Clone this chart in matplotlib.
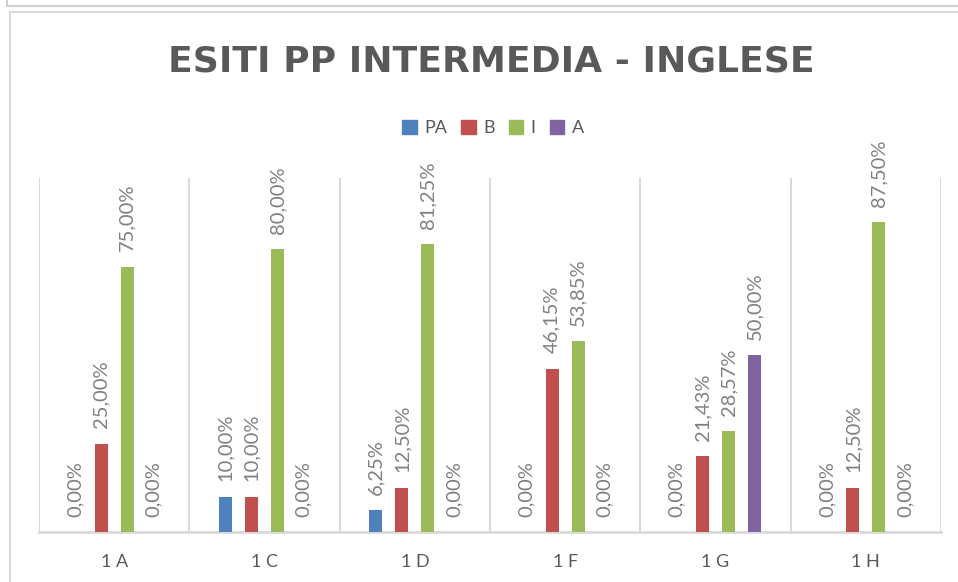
import numpy as np
import matplotlib.pyplot as plt
from matplotlib.patches import Rectangle, Patch

classi = ['1A', '1C', '1D', '1F', '1G', '1H']
serie = ['PA', 'B', 'I', 'A']
PA = [0, 10, 6.25, 0, 0, 0]
B = [25, 10, 12.5, 46.15, 21.43, 12.5]
I = [75, 80, 81.25, 53.85, 28.57, 87.5]
A = [0, 0, 0, 0, 50, 0]
colori = ['#4F81BD', '#C0504D', '#9BBB59', '#8064A2']

plt.rcParams['font.family'] = ['Lato', 'DejaVu Sans']

fig = plt.figure(figsize=(9.58, 5.82), dpi=100)
W, H = 958, 582

# cornici di sfondo (come nello screenshot)
fig.patches.append(Rectangle((7/W, 1 - 6/H), 1, 8/H, transform=fig.transFigure,
                             fc='white', ec='#d0d0d0', lw=1.5, zorder=-2))
fig.patches.append(Rectangle((10/W, -0.1), 1, 1 - 12/H + 0.1, transform=fig.transFigure,
                             fc='white', ec='#d9d9d9', lw=1.5, zorder=-2))

ax = fig.add_axes([39/W, 1 - 532/H, (941 - 39)/W, (532 - 178)/H])
ax.set_facecolor('none')

x = np.arange(len(classi))
w = 0.087
off = 0.1733
for k, vals in enumerate([PA, B, I, A]):
    pos = x + (k - 1.5) * off
    ax.bar(pos, vals, width=w, color=colori[k], zorder=3)
    for p, v in zip(pos, vals):
        lab = f'{v:.2f}'.replace('.', ',') + '%'
        ax.annotate(lab, (p, v), xytext=(0, 11), textcoords='offset points',
                    rotation=90, ha='center', va='bottom', fontsize=14.5,
                    color='#808080')

ax.set_xlim(-0.5, 5.5)
ax.set_ylim(0, 100)
ax.set_yticks([])
ax.set_xticks(x)
ax.set_xticklabels([c[0] + ' ' + c[1] for c in classi], fontsize=13, color='#595959')
ax.tick_params(axis='x', length=0, pad=16)
ax.set_xticks(np.arange(-0.5, 6, 1), minor=True)
ax.tick_params(axis='x', which='minor', length=0)
ax.grid(axis='x', which='minor', color='#d9d9d9', lw=1.5, zorder=0)
for s in ['top', 'right', 'left']:
    ax.spines[s].set_visible(False)
ax.spines['bottom'].set_color('#d9d9d9')
ax.spines['bottom'].set_linewidth(2)

fig.text(491/W, 1 - 62/H, 'ESITI PP INTERMEDIA - INGLESE', ha='center', va='center',
         fontsize=26, fontweight='bold', color='#595959', family='DejaVu Sans')

handles = [Patch(color=c) for c in colori]
fig.legend(handles, serie, loc='center', bbox_to_anchor=(493/W, 1 - 128/H), ncol=4,
           frameon=False, fontsize=13, handlelength=0.8, handleheight=0.8,
           handletextpad=0.4, columnspacing=0.8, labelcolor='#595959')

fig.savefig('out.png', dpi=100)
